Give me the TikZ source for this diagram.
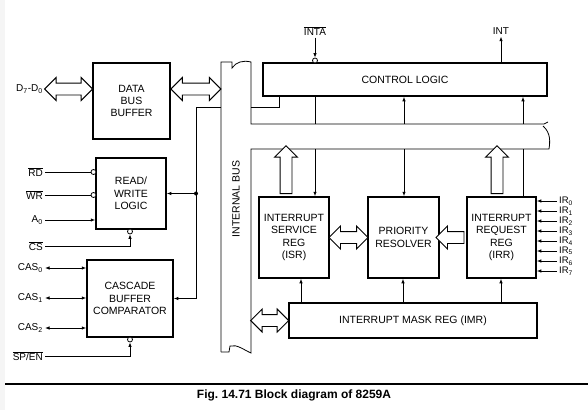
\documentclass[tikz,border=0pt]{standalone}
\usepackage{fontspec}
\setmainfont{Liberation Sans}
\usetikzlibrary{arrows.meta,shapes.arrows,calc}
\newcommand\olbl[1]{$\overline{\mbox{#1}}$}

\begin{document}
\begin{tikzpicture}[x=1pt,y=-1pt,
    blk/.style={draw,line width=1.5pt,align=center,inner sep=0pt,font=\fontsize{10.5}{12.3}\selectfont},
    pinlbl/.style={inner sep=2pt,font=\fontsize{10}{12}\selectfont},
    irlbl/.style={inner sep=2pt,anchor=west,font=\fontsize{9.5}{10}\selectfont},
    bub/.style={draw,circle,inner sep=0pt,minimum size=5pt,fill=white,line width=0.8pt},
    sig/.style={line width=0.8pt},
    arr/.style={-{Latex[length=4.5pt,width=3.5pt]}},
    darr/.style={{Latex[length=4.5pt,width=3.5pt]}-{Latex[length=4.5pt,width=3.5pt]}},
    fat/.style={draw,line width=0.9pt,double arrow,double arrow head extend=5.5pt,inner sep=0pt,fill=white},
    fat1/.style={draw,line width=0.9pt,single arrow,single arrow head extend=5.5pt,inner sep=0pt,fill=white}]
  \useasboundingbox (0,0) rectangle (588,410);
  \fill[gray!8] (0,0) rectangle (5,410);

  % blocks
  \node[blk, minimum width=77pt, minimum height=76pt] (dbb) at (131.5,101) {DATA\\BUS\\BUFFER};
  \node[blk, minimum width=70pt, minimum height=71pt] (rw) at (131,193.5) {READ/\\WRITE\\LOGIC};
  \node[blk, minimum width=86pt, minimum height=77pt] (cbc) at (130,298.5) {CASCADE\\BUFFER\\COMPARATOR};
  \node[blk, minimum width=284pt, minimum height=33pt] (ctl) at (405,79.5) {CONTROL LOGIC};
  \node[blk, minimum width=70pt, minimum height=81pt] (isr) at (294,237.5) {INTERRUPT\\SERVICE\\REG\\(ISR)};
  \node[blk, minimum width=71pt, minimum height=81pt] (pr) at (403.5,237.5) {PRIORITY\\RESOLVER};
  \node[blk, minimum width=69pt, minimum height=81pt] (irr) at (501.5,237.5) {INTERRUPT\\REQUEST\\REG\\(IRR)};
  \node[blk, minimum width=248pt, minimum height=35pt] (imr) at (413,320.5) {INTERRUPT MASK REG (IMR)};

  % internal bus
  \coordinate (busl) at (221,62);
  \coordinate (bt) at (251,124);
  \coordinate (bb) at (251,149);
  \draw[sig] (221,352) -- (busl) -- (232,62) -- (232,68) .. controls (236,62) and (243,60) .. (251,62)
    -- (bt) -- (544,124) -- (548,122);
  \draw[sig] (543,126) .. controls (551,133) and (550,142) .. (549,149) -- (bb) -- (251,353)
    .. controls (244,350) and (237,344) .. (230,346) -- (229,352) -- (221,352);
  \node[rotate=90, font=\fontsize{10.5}{12}\selectfont] (ib) at (236,199) {INTERNAL BUS};
  \coordinate (cl) at (251,107);
  \draw[sig] (cl) -- (279,107) -- (ctl.south -| 279,0);

  % left pins
  \node[pinlbl, anchor=east] (d70) at (45,89) {D\textsubscript{7}-D\textsubscript{0}};
  \node[fat, minimum height=48pt] (dfat) at ($(d70.east)!.5!(d70.east -| dbb.west)$) {\rule{0pt}{11pt}};
  \node[fat, minimum height=50pt] (bfat) at ($(d70 -| dbb.east)!.5!(d70 -| busl)$) {\rule{0pt}{11pt}};
  \node[pinlbl, anchor=east] (rd) at (45,172) {\olbl{RD}};
  \node[pinlbl, anchor=east] (wr) at (45,195) {\olbl{WR}};
  \node[pinlbl, anchor=east] (a0) at (45,220) {A\textsubscript{0}};
  \node[pinlbl, anchor=east] (cs) at (45,246) {\olbl{CS}};
  \node[bub] (rdb) at (93.5,172) {};
  \node[bub] (wrb) at (93.5,195) {};
  \node[bub] (csb) at (130,231.5) {};
  \draw[sig] (rd) -- (rdb);
  \draw[sig] (wr) -- (wrb);
  \draw[sig,arr] (a0) -- (rw.west |- a0);
  \draw[sig,arr] (cs) -| (csb);
  \foreach \i/\y in {0/268,1/298,2/328}{
    \node[pinlbl, anchor=east] (cas\i) at (45,\y) {CAS\textsubscript{\i}};
    \draw[sig,darr] (cas\i) -- (cbc.west |- cas\i);
  }
  \node[pinlbl, anchor=east] (sp) at (45,356) {\olbl{SP/EN}};
  \node[bub] (spb) at (130,339.5) {};
  \draw[sig,arr] (sp) -| (spb);

  % bus to R/W and cascade
  \coordinate (bj) at (196,107);
  \draw[sig] (cl -| busl) -- (bj);
  \draw[sig,arr] (bj) |- (cbc.east);
  \fill (bj |- rw.east) circle (2pt);
  \draw[sig,arr] (bj |- rw.east) -- (rw.east);

  % control logic
  \node[pinlbl] (inta) at (315,31) {\olbl{INTA}};
  \node[bub] (intab) at (315,60.5) {};
  \draw[sig,arr] (inta) -- (intab);
  \node[pinlbl] (int) at (501,31) {INT};
  \draw[sig,arr] (ctl.north -| int) -- (int);
  \coordinate (c1) at (315,0);
  \coordinate (c2) at (404,0);
  \coordinate (c3) at (523,0);
  \draw[sig] (ctl.south -| c1) -- (bt -| c1);
  \draw[sig,arr] (bt -| c2) -- (ctl.south -| c2);
  \draw[sig,arr] (bt -| c3) -- (ctl.south -| c3);
  \draw[sig,arr] (bb -| c1) -- (isr.north -| c1);
  \draw[sig,arr] (bb -| c2) -- (pr.north -| c2);
  \draw[sig] (irr.north -| c3) -- (bb -| c3);
  \coordinate (u1) at (286,0);
  \coordinate (u2) at (497,0);
  \node[fat1, rotate=90, minimum height=48pt] (ufat1) at ($(isr.north -| u1)!.5!(bb -| u1)$) {\rule{0pt}{11pt}};
  \node[fat1, rotate=90, minimum height=48pt] (ufat2) at ($(irr.north -| u2)!.5!(bb -| u2)$) {\rule{0pt}{11pt}};

  % registers
  \node[fat, minimum height=39pt] (ipfat) at ($(isr.east)!.5!(pr.west)$) {\rule{0pt}{11pt}};
  \node[fat1, rotate=180, minimum height=28pt] (rpfat) at ($(pr.east)!.5!(irr.west)$) {\rule{0pt}{11pt}};
  \node[fat, minimum height=38pt] (mfat) at ($(imr.west)!.5!(imr.west -| bb)$) {\rule{0pt}{11pt}};
  \foreach \m/\blk in {301/isr,403/pr,501/irr}{
    \draw[sig,arr] (imr.north -| \m,0) -- (\blk.south -| \m,0);
  }
  \foreach \i in {0,...,7}{
    \node[irlbl] (ir\i) at (557,{201+10*\i}) {IR\textsubscript{\i}};
    \draw[sig,arr] (ir\i.west) -- (irr.east |- ir\i.west);
  }

  % caption
  \draw[line width=1.2pt] (5,384) -- (588,384);
  \node[font=\bfseries\fontsize{12}{14}\selectfont] (cap) at (294,395) {Fig.\ 14.71 Block diagram of 8259A};
\end{tikzpicture}
\end{document}
